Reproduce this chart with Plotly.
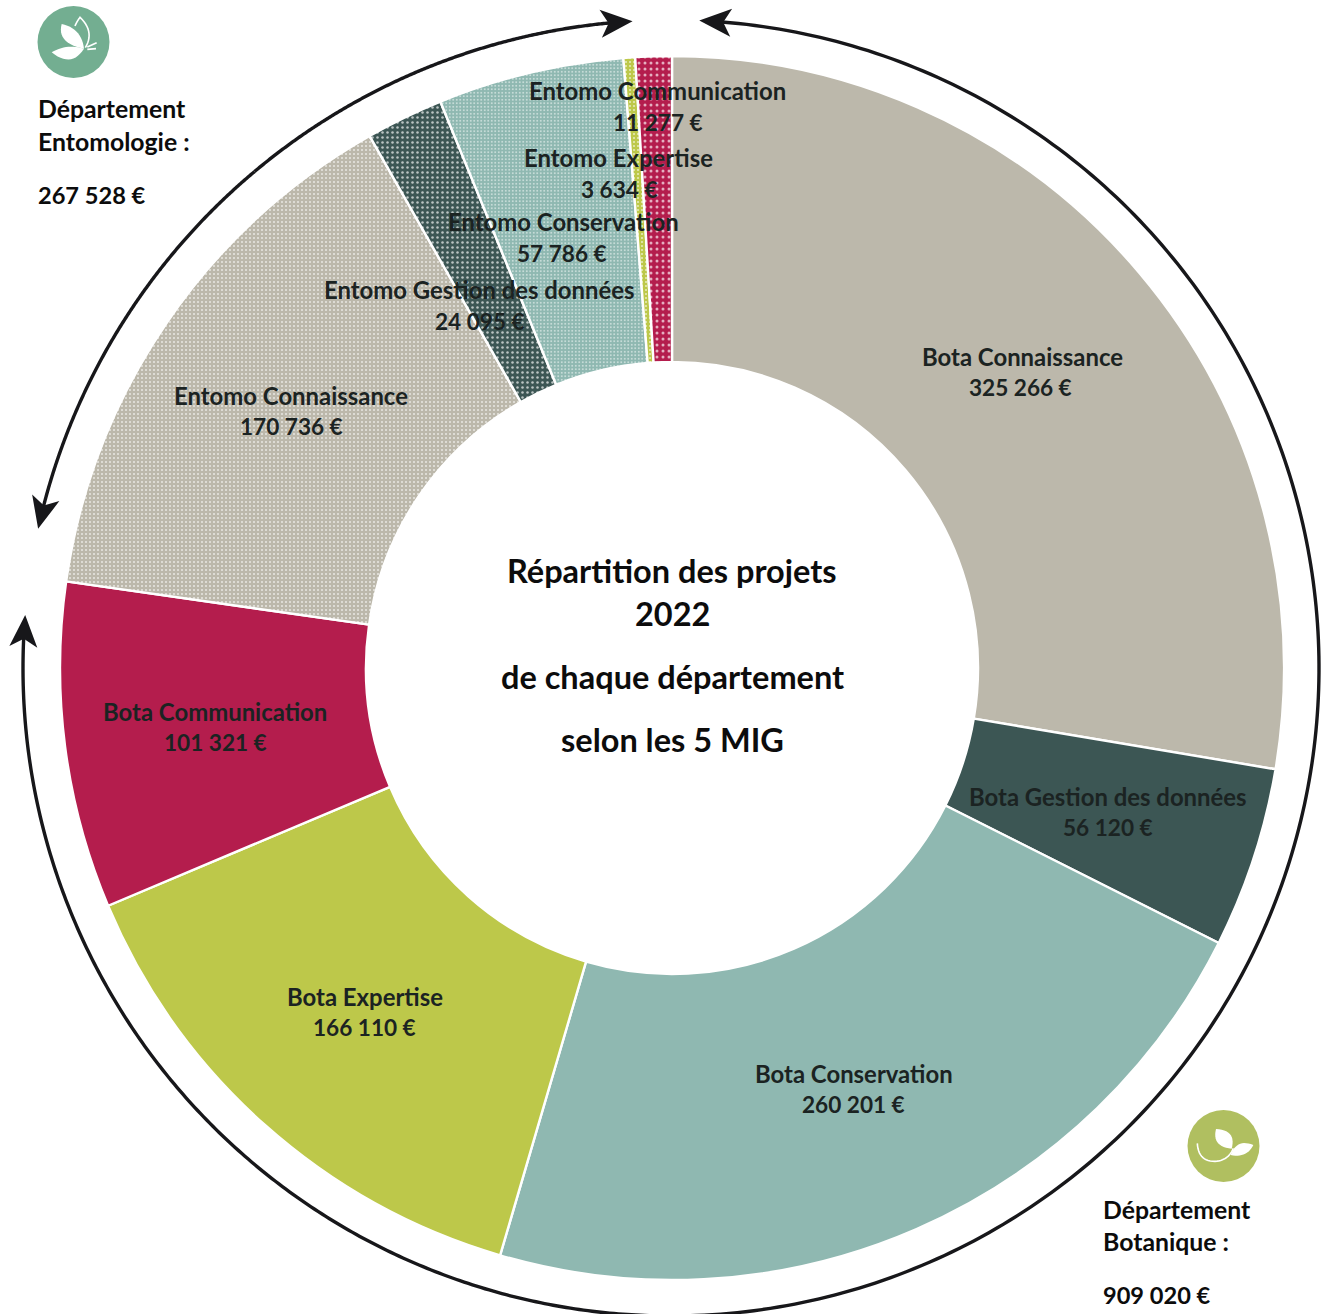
import numpy as np
import plotly.graph_objects as go

# ---------- data ----------
categories = ["Bota Connaissance", "Bota Gestion des données", "Bota Conservation",
              "Bota Expertise", "Bota Communication", "Entomo Connaissance",
              "Entomo Gestion des données", "Entomo Conservation", "Entomo Expertise",
              "Entomo Communication"]
values = [325266, 56120, 260201, 166110, 101321, 170736, 24095, 57786, 3634, 11277]
slice_colors = ["#bcb8ab", "#3c5654", "#8fb8b1", "#bdc84a", "#b41d4d",
                "#bcb8ab", "#3c5654", "#8fb8b1", "#bdc84a", "#b41d4d"]
title_lines = ["Répartition des projets", "2022", "de chaque département", "selon les 5 MIG"]
dept_entomo = ["Département", "Entomologie :", "267 528 €"]
dept_bota = ["Département", "Botanique :", "909 020 €"]

# ---------- layout helpers ----------
W, H = 1322, 1314
CX, CY, R_OUT, R_IN = 672, 668, 612, 306
FONT = "Lato"
INK = "#17171a"


def pxx(x):
    return x / W


def pxy(y):
    return 1 - y / H


def path_of(points, close=False):
    d = "M " + " L ".join(f"{pxx(x):.5f},{pxy(y):.5f}" for x, y in points)
    return d + (" Z" if close else "")


def bez(p0, p1, p2, n=14):
    t = np.linspace(0, 1, n)[:, None]
    p0, p1, p2 = map(np.array, (p0, p1, p2))
    return ((1 - t) ** 2 * p0 + 2 * t * (1 - t) * p1 + t ** 2 * p2).tolist()


def fmt(v):
    return f"{v:,}".replace(",", " ") + " €"


def text(x, y, s, size, anchor="center", color=INK):
    return dict(x=pxx(x), y=pxy(y), xref="paper", yref="paper", text=f"<b>{s}</b>",
                showarrow=False, xanchor=anchor, yanchor="middle",
                font=dict(family=FONT, size=size, color=color))


# label centres (pixels): name line and value line
label_pos = {
    "Bota Connaissance": (1022, 356, 1020, 387),
    "Bota Gestion des données": (1108, 796, 1108, 827),
    "Bota Conservation": (854, 1073, 853, 1104),
    "Bota Expertise": (365, 996, 365, 1027),
    "Bota Communication": (215, 711, 215, 742),
    "Entomo Connaissance": (291, 395, 291, 426),
    "Entomo Gestion des données": (479, 289, 480, 321),
    "Entomo Conservation": (563, 222, 562, 254),
    "Entomo Expertise": (618, 157, 619, 189),
    "Entomo Communication": (657, 91, 658, 123),
}

annotations = []
for name, val in zip(categories, values):
    x1, y1, x2, y2 = label_pos[name]
    annotations.append(text(x1, y1, name, 23.9, color="#1b2322"))
    annotations.append(text(x2, y2, fmt(val), 22.6, color="#1b2322"))

for s, y in zip(title_lines, [570.5, 613, 676.5, 739.5]):
    annotations.append(text(672, y, s, 32.5, color="#0c0c0c"))
for s, y, sz in zip(dept_entomo, [108, 142, 195], [24.8, 24.8, 23.6]):
    annotations.append(text(36, y, s, sz, anchor="left", color="#0c0c0c"))
for s, y, sz in zip(dept_bota, [1209, 1241, 1295], [24.8, 24.8, 23.6]):
    annotations.append(text(1101, y, s, sz, anchor="left", color="#0c0c0c"))

# ---------- arcs and arrows ----------
ARC_CX, ARC_CY, ARC_R = 671, 668, 648


def arc_pt(deg):
    a = np.radians(deg)
    return ARC_CX + ARC_R * np.sin(a), ARC_CY - ARC_R * np.cos(a)


def arc_shapes(start, end):
    """arc drawn start→end in degrees clockwise from top, arrow head at end"""
    sgn = np.sign(end - start)
    stop = end - sgn * 2.0
    pts = [arc_pt(d) for d in np.linspace(start, stop, 240)]
    line = dict(type="path", path=path_of(pts), xref="paper", yref="paper",
                line=dict(color=INK, width=3.4), fillcolor="rgba(0,0,0,0)")
    tip = np.array(arc_pt(end))
    a = np.radians(end - sgn * 1.4)
    u = np.array([np.cos(a), np.sin(a)]) * sgn
    n = np.array([-u[1], u[0]])
    head = [tip, tip - 32 * u + 14 * n, tip - 24 * u, tip - 32 * u - 14 * n]
    arrow = dict(type="path", path=path_of(head, True), xref="paper", yref="paper",
                 line=dict(width=0), fillcolor=INK)
    return [line, arrow]


shapes = []
# the Botanique arc runs from the top clockwise; each end carries an arrow head
shapes += arc_shapes(180, 274.7) + arc_shapes(180, 2.5)
shapes += arc_shapes(-40, -77.6) + arc_shapes(-40, -3.4)

# ---------- icons ----------
def disc(cx, cy, r, color):
    return dict(type="circle", xref="paper", yref="paper", x0=pxx(cx - r), x1=pxx(cx + r),
                y0=pxy(cy + r), y1=pxy(cy - r), fillcolor=color, line=dict(width=0))


def filled(pts):
    return dict(type="path", path=path_of(pts, True), xref="paper", yref="paper",
                fillcolor="white", line=dict(width=0))


def stroked(pts, w=1.6):
    return dict(type="path", path=path_of(pts), xref="paper", yref="paper",
                fillcolor="rgba(0,0,0,0)", line=dict(color="white", width=w))


def z1(x, y):
    return (x / 3, y / 3)


def z2(x, y):
    return (1090 + x / 3, 1100 + y / 3)


shapes.append(disc(73.5, 42, 36, "#73ae91"))
shapes.append(filled(bez(z1(185, 72), z1(245, 85), z1(252, 146)) + bez(z1(252, 146), z1(170, 130), z1(185, 72))))
shapes.append(filled(bez(z1(155, 157), z1(200, 130), z1(252, 146)) + bez(z1(252, 146), z1(215, 205), z1(155, 157))))
shapes.append(stroked(bez(z1(225, 78), z1(232, 62), z1(240, 52)) + bez(z1(240, 52), z1(285, 95), z1(256, 143))))
shapes.append(stroked([z1(262, 141), z1(290, 128)]))
shapes.append(stroked([z1(262, 148), z1(288, 146)]))

shapes.append(disc(1223.5, 1146, 36, "#b0bf60"))
shapes.append(filled(bez(z2(378, 87), z2(440, 90), z2(425, 146)) + bez(z2(425, 146), z2(365, 140), z2(378, 87))))
shapes.append(filled(bez(z2(490, 135), z2(440, 115), z2(422, 165)) + bez(z2(422, 165), z2(470, 175), z2(490, 135))))
shapes.append(stroked(bez(z2(322, 130), z2(325, 185), z2(375, 184)) + bez(z2(375, 184), z2(415, 182), z2(430, 145))))

# ---------- pie ----------
fig = go.Figure(go.Pie(
    labels=categories,
    values=values,
    sort=False,
    direction="clockwise",
    rotation=0,
    hole=R_IN / R_OUT,
    textinfo="none",
    hoverinfo="label+value",
    showlegend=False,
    domain=dict(x=[pxx(CX - R_OUT), pxx(CX + R_OUT)], y=[pxy(CY + R_OUT), pxy(CY - R_OUT)]),
    marker=dict(
        colors=slice_colors,
        line=dict(color="white", width=2.4),
        pattern=dict(
            shape=["", "", "", "", "", ".", ".", ".", ".", "."],
            bgcolor=slice_colors,
            fgcolor="white",
            fgopacity=0.65,
            size=[5, 5, 5, 5, 5, 4, 5, 3.5, 4, 6],
            solidity=0.2,
        ),
    ),
))
fig.update_layout(
    width=W, height=H, autosize=False,
    margin=dict(l=0, r=0, t=0, b=0),
    paper_bgcolor="white", plot_bgcolor="white",
    annotations=annotations, shapes=shapes,
)
fig.write_html("out.html", config=dict(displayModeBar=False),
               post_script="document.body.style.margin='0';document.body.style.overflow='hidden';")
